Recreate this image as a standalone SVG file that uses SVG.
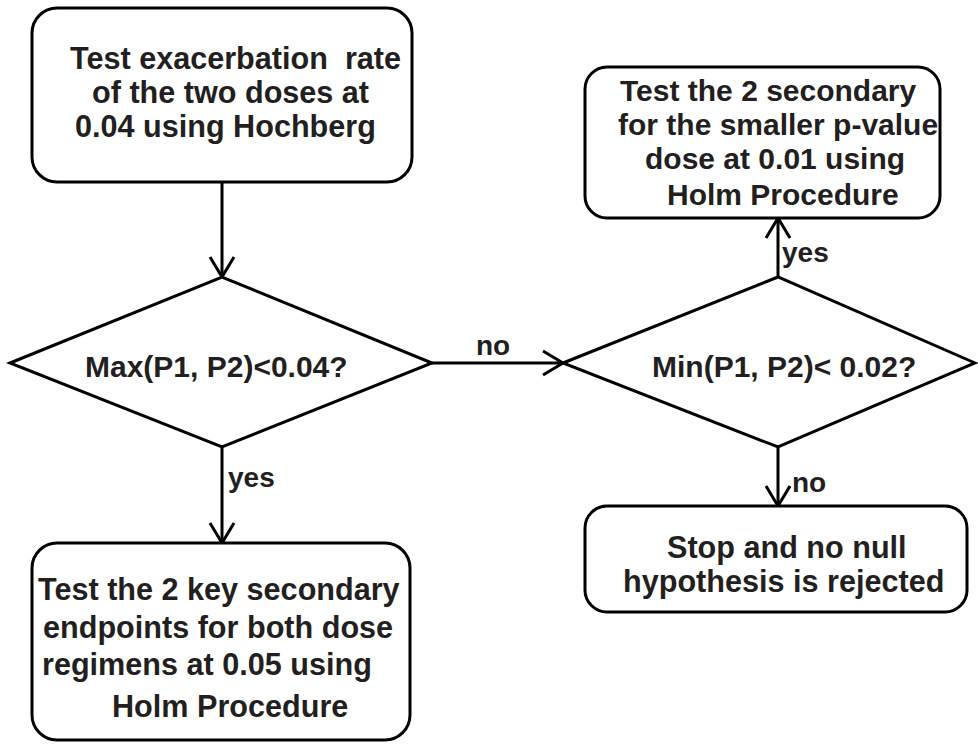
<svg xmlns="http://www.w3.org/2000/svg" width="978" height="745" viewBox="0 0 978 745">
<style>
.box{fill:#fff;stroke:#000;stroke-width:3}
.dia{fill:#fff;stroke:#000;stroke-width:3}
.t{font-family:"Liberation Sans",Arial,sans-serif;font-weight:bold;font-size:30.6px;fill:#231f20;white-space:pre}
.d{font-family:"Liberation Sans",Arial,sans-serif;font-weight:bold;font-size:30px;fill:#231f20;white-space:pre}
.lbl{font-family:"Liberation Sans",Arial,sans-serif;font-weight:bold;font-size:28px;fill:#231f20}
.c{fill:none;stroke:#000;stroke-width:3}
</style>
<defs>
<marker id="ah" viewBox="0 0 24 28" refX="22" refY="14" markerWidth="24" markerHeight="28" markerUnits="userSpaceOnUse" orient="auto">
<path d="M2,2 L22,14 L2,26" fill="none" stroke="#000" stroke-width="3"/>
</marker>
</defs>
<g id="connectors">
<line class="c" x1="222" y1="182" x2="222" y2="277" marker-end="url(#ah)"/>
<line class="c" x1="432" y1="363" x2="563" y2="363" marker-end="url(#ah)"/>
<line class="c" x1="222" y1="447" x2="222" y2="543" marker-end="url(#ah)"/>
<line class="c" x1="778" y1="277" x2="778" y2="218" marker-end="url(#ah)"/>
<line class="c" x1="778" y1="447" x2="778" y2="506" marker-end="url(#ah)"/>
<text class="lbl" x="476" y="355">no</text>
<text class="lbl" x="228" y="487">yes</text>
<text class="lbl" x="782" y="262">yes</text>
<text class="lbl" x="792" y="492">no</text>
</g>
<g id="start">
<rect class="box" x="32" y="8" width="380" height="174" rx="25"/>
<text class="t" x="70" y="69">Test exacerbation  rate</text>
<text class="t" x="92" y="103">of the two doses at</text>
<text class="t" x="75" y="137">0.04 using Hochberg</text>
</g>
<g id="decision1">
<polygon class="dia" points="10,363 222,277 432,363 222,447"/>
<text class="d" x="85" y="377">Max(P1, P2)&lt;0.04?</text>
</g>
<g id="decision2">
<polygon class="dia" points="563,363 778,277 975,363 778,447"/>
<text class="d" x="652" y="377">Min(P1, P2)&lt; 0.02?</text>
</g>
<g id="secondarySmaller">
<rect class="box" x="585" y="67" width="355" height="151" rx="22"/>
<text class="d" x="620" y="101">Test the 2 secondary</text>
<text class="d" x="618" y="135">for the smaller p-value</text>
<text class="d" x="645" y="169">dose at 0.01 using</text>
<text class="d" x="667" y="205">Holm Procedure</text>
</g>
<g id="stop">
<rect class="box" x="585" y="506" width="382" height="106" rx="22"/>
<text class="t" x="667" y="558">Stop and no null</text>
<text class="t" x="623" y="592">hypothesis is rejected</text>
</g>
<g id="secondaryBoth">
<rect class="box" x="32" y="543" width="378" height="197" rx="25"/>
<text class="t" x="38" y="600">Test the 2 key secondary</text>
<text class="t" x="43" y="638">endpoints for both dose</text>
<text class="t" x="42" y="675">regimens at 0.05 using</text>
<text class="t" x="112" y="717">Holm Procedure</text>
</g>
</svg>
